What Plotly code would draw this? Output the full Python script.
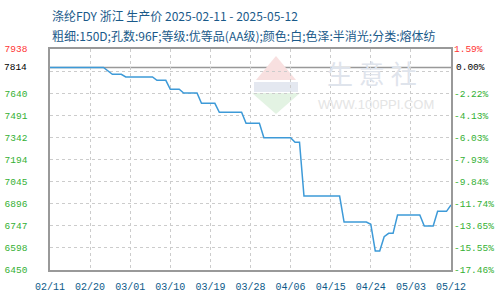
import plotly.graph_objects as go

# ---- data ----
dates = ["2025-02-11", "2025-02-23", "2025-02-25", "2025-02-27", "2025-02-28",
         "2025-03-06", "2025-03-07", "2025-03-09", "2025-03-10", "2025-03-12",
         "2025-03-13", "2025-03-16", "2025-03-17", "2025-03-20", "2025-03-21",
         "2025-03-26", "2025-03-27", "2025-03-30", "2025-03-31", "2025-04-06",
         "2025-04-07", "2025-04-08", "2025-04-09", "2025-04-17", "2025-04-18",
         "2025-04-23", "2025-04-24", "2025-04-25", "2025-04-26", "2025-04-27",
         "2025-04-28", "2025-04-29", "2025-04-30", "2025-05-05", "2025-05-06",
         "2025-05-08", "2025-05-09", "2025-05-11", "2025-05-12"]
prices = [7814, 7814, 7768, 7768, 7750,
          7750, 7727, 7727, 7667, 7667,
          7642, 7642, 7572, 7572, 7512,
          7512, 7438, 7438, 7341, 7341,
          7310, 7310, 6948, 6948, 6773,
          6773, 6758, 6578, 6578, 6674,
          6697, 6697, 6820, 6820, 6746,
          6746, 6845, 6845, 6888]

base_price = 7814
y_grid = [7938, 7789.2, 7640.4, 7491.6, 7342.8, 7194, 7045.2, 6896.4, 6747.6, 6598.8, 6450]
y_left_labels = ["7938", "", "7640", "7491", "7342", "7194", "7045", "6896", "6747", "6598", "6450"]
y_right_labels = ["1.59%", "", "-2.22%", "-4.13%", "-6.03%", "-7.93%", "-9.84%",
                  "-11.74%", "-13.65%", "-15.55%", "-17.46%"]
x_ticks = ["2025-02-11", "2025-02-20", "2025-03-01", "2025-03-10", "2025-03-19",
           "2025-03-28", "2025-04-06", "2025-04-15", "2025-04-24", "2025-05-03", "2025-05-12"]

title1 = "涤纶FDY 浙江 生产价 2025-02-11 - 2025-05-12"
title2 = "粗细:150D;孔数:96F;等级:优等品(AA级);颜色:白;色泽:半消光;分类:熔体纺"

RED = "#ff3333"
GREEN = "#33b033"
BLACK = "#000000"
TICKFONT = "Liberation Mono"
TS = 9.5


def colored(lbls):
    out = []
    for i, t in enumerate(lbls):
        c = RED if i == 0 else GREEN
        out.append(f'<span style="color:{c}">{t}</span>' if t else "")
    return out


fig = go.Figure()
fig.add_trace(go.Scatter(x=dates, y=prices, mode="lines",
                         line=dict(color="#3d9ad8", width=1.5),
                         hoverinfo="skip", showlegend=False))
fig.add_trace(go.Scatter(x=dates, y=prices, mode="lines", yaxis="y2",
                         line=dict(color="rgba(0,0,0,0)", width=0),
                         hoverinfo="skip", showlegend=False))

# baseline (start price)
fig.add_shape(type="line", xref="paper", x0=0, x1=1, yref="y", y0=base_price, y1=base_price,
              line=dict(color="#999999", width=1.5), layer="below")

# watermark
def px(x):
    return (x - 50) / 401.0

def py(y):
    return (270 - y) / 221.0

fig.add_shape(type="path", xref="paper", yref="paper",
              path=f"M {px(252)} {py(93)} L {px(300)} {py(93)} L {px(276)} {py(114)} Z",
              fillcolor="#e3f3e3", line=dict(width=0), layer="below")
fig.add_shape(type="path", xref="paper", yref="paper",
              path=f"M {px(256)} {py(80)} L {px(296)} {py(80)} L {px(276)} {py(56)} Z",
              fillcolor="#f8e0e0", line=dict(width=0), layer="below")
fig.add_shape(type="rect", xref="paper", yref="paper",
              x0=px(254), x1=px(298), y0=py(92), y1=py(82),
              fillcolor="#e4e8f0", line=dict(width=0), layer="below")
fig.add_annotation(text="生 意 社", xref="paper", yref="paper", x=px(372), y=py(73),
                   xanchor="center", yanchor="middle",
                   showarrow=False, font=dict(size=26, color="#dfe4ec", family="Noto Sans CJK SC"))
fig.add_annotation(text="WWW.100PPI.COM", xref="paper", yref="paper", x=px(376), y=py(104),
                   xanchor="center", yanchor="middle",
                   showarrow=False, font=dict(size=13, color="#e4e4e4", family="Liberation Sans"))

# titles
fig.add_annotation(text=title1, xref="paper", yref="paper", x=0, y=py(15), xanchor="left",
                   yanchor="middle", showarrow=False,
                   font=dict(size=12, color="#1a5a8a", family="Noto Sans CJK SC"))
fig.add_annotation(text=title2, xref="paper", yref="paper", x=0, y=py(35), xanchor="left",
                   yanchor="middle", showarrow=False,
                   font=dict(size=12, color="#1a5a8a", family="Noto Sans CJK SC"))

# base labels
fig.add_annotation(text=str(base_price), xref="paper", yref="y", x=px(29), y=base_price,
                   xanchor="right", yanchor="middle", showarrow=False,
                   font=dict(size=TS, color=BLACK, family=TICKFONT))
fig.add_annotation(text="0.00%", xref="paper", yref="y", x=px(454), y=base_price,
                   xanchor="left", yanchor="middle", showarrow=False,
                   font=dict(size=TS, color=BLACK, family=TICKFONT))

grid = dict(showgrid=True, gridcolor="#cccccc", griddash="3px,3px", gridwidth=1)

fig.update_layout(
    width=500, height=300,
    margin=dict(l=50, r=49, t=49, b=30, autoexpand=False),
    paper_bgcolor="white", plot_bgcolor="white",
    xaxis=dict(type="date", range=["2025-02-11", "2025-05-12"],
               tickvals=x_ticks, tickformat="%m/%d", ticks="", automargin=False,
               ticklabelstandoff=6,
               tickfont=dict(size=TS + 0.5, color="#0d5a8a", family=TICKFONT),
               showline=True, linecolor="#999999", linewidth=1.5, mirror=True,
               zeroline=False, **grid),
    yaxis=dict(range=[6450, 7938], tickvals=y_grid, ticktext=colored(y_left_labels),
               ticks="", ticklabelstandoff=19, automargin=False,
               tickfont=dict(size=TS, color=GREEN, family=TICKFONT),
               showline=True, linecolor="#999999", linewidth=1.5, mirror=True,
               zeroline=False, **grid),
    yaxis2=dict(range=[6450, 7938], overlaying="y", side="right", automargin=False,
                tickvals=y_grid, ticktext=colored(y_right_labels), ticks="",
                ticklabelstandoff=2,
                tickfont=dict(size=TS, color=GREEN, family=TICKFONT),
                showgrid=False, zeroline=False, showline=False),
)

fig.write_html("out.html")
